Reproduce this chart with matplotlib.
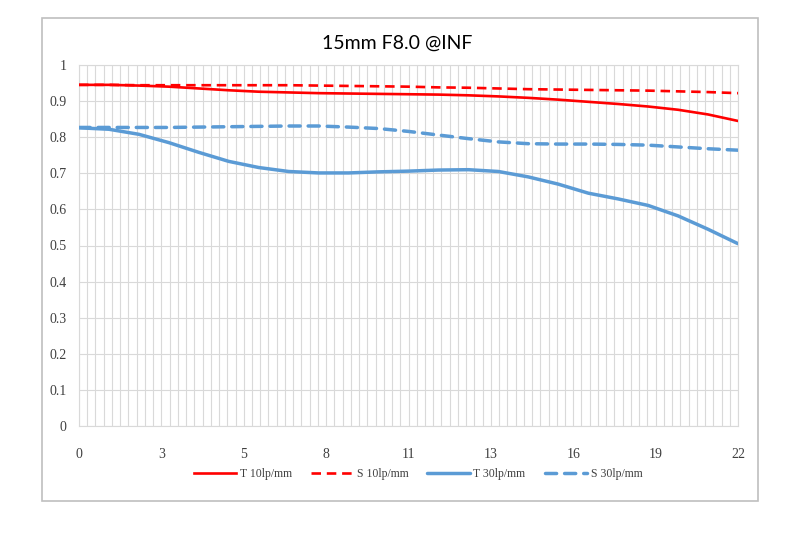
import matplotlib
matplotlib.use("Agg")
import matplotlib.pyplot as plt
from matplotlib.patches import Rectangle
import numpy as np

title = "15mm F8.0 @INF"
x = [0, 1, 2, 3, 4, 5, 6, 7, 8, 9, 10, 11, 12, 13, 14, 15, 16, 17, 18, 19, 20, 21, 22]
t10 = [0.945, 0.945, 0.943, 0.940, 0.935, 0.930, 0.926, 0.924, 0.922, 0.921, 0.920, 0.919,
       0.918, 0.916, 0.913, 0.909, 0.904, 0.898, 0.892, 0.885, 0.876, 0.863, 0.845]
s10 = [0.945, 0.945, 0.944, 0.944, 0.944, 0.944, 0.944, 0.944, 0.943, 0.942, 0.941, 0.940,
       0.938, 0.937, 0.935, 0.933, 0.932, 0.931, 0.930, 0.929, 0.927, 0.925, 0.922]
t30 = [0.826, 0.822, 0.808, 0.785, 0.758, 0.733, 0.716, 0.705, 0.701, 0.701, 0.704, 0.706,
       0.709, 0.710, 0.705, 0.690, 0.670, 0.645, 0.629, 0.611, 0.582, 0.545, 0.505]
s30 = [0.827, 0.827, 0.827, 0.827, 0.828, 0.829, 0.830, 0.831, 0.831, 0.828, 0.824, 0.816,
       0.806, 0.796, 0.787, 0.782, 0.781, 0.781, 0.780, 0.778, 0.773, 0.768, 0.764]
series_labels = ["T 10lp/mm", "S 10lp/mm", "T 30lp/mm", "S 30lp/mm"]
xtick_pos = [0, 2.75, 5.5, 8.25, 11, 13.75, 16.5, 19.25, 22]
xtick_labels = ["0", "3", "5", "8", "11", "13", "16", "19", "22"]
ytick_pos = [0, 0.1, 0.2, 0.3, 0.4, 0.5, 0.6, 0.7, 0.8, 0.9, 1.0]
ytick_labels = ["0", "0.1", "0.2", "0.3", "0.4", "0.5", "0.6", "0.7", "0.8", "0.9", "1"]
n_categories = 80

W, H = 790, 545
fig = plt.figure(figsize=(W / 100, H / 100), dpi=100)
fig.patch.set_facecolor("white")

# outer border
fig.patches.append(Rectangle((42 / W, 1 - 501 / H), 716 / W, 483 / H,
                             transform=fig.transFigure, fill=False,
                             edgecolor="#BFBFBF", linewidth=1.2))

ax = fig.add_axes([79 / W, 1 - 426 / H, (738 - 79) / W, (426 - 65) / H])
grid_c = "#D9D9D9"
for v in np.linspace(0, 22, n_categories + 1):
    ax.axvline(v, color=grid_c, linewidth=0.8, zorder=1)
for v in ytick_pos:
    ax.axhline(v, color=grid_c, linewidth=0.8, zorder=1)

red = "#FF0000"
blue = "#5B9BD5"
ax.plot(x, t10, color=red, linewidth=1.9, label=series_labels[0], zorder=3)
ax.plot(x, s10, color=red, linewidth=1.9, dashes=(3.6, 2.2), label=series_labels[1], zorder=3)
ax.plot(x, t30, color=blue, linewidth=2.5, label=series_labels[2], zorder=3,
        solid_capstyle="round")
ax.plot(x, s30, color=blue, linewidth=2.5, dashes=(3.2, 2.3), dash_capstyle="round",
        label=series_labels[3], zorder=3)

ax.set_xlim(0, 22)
ax.set_ylim(0, 1)
ax.set_xticks(xtick_pos)
ax.set_xticklabels(xtick_labels)
ax.set_yticks(ytick_pos)
ax.set_yticklabels(ytick_labels)
for s in ax.spines.values():
    s.set_color(grid_c)
    s.set_linewidth(0.8)
ax.tick_params(length=0, colors="#404040")
ax.tick_params(axis="x", pad=16)
ax.tick_params(axis="y", pad=9)
for lab in ax.get_xticklabels() + ax.get_yticklabels():
    lab.set_fontfamily("Liberation Serif")
    lab.set_fontsize(10)
    lab.set_color("#404040")

fig.text(397 / W, 1 - 43 / H, title, ha="center", va="center",
         fontsize=14, family="Lato", color="black")

leg = fig.legend(loc="center", bbox_to_anchor=(418 / W, 1 - 474 / H), ncol=4,
                 frameon=False, handlelength=3.6, handletextpad=0.3,
                 columnspacing=1.6, prop={"family": "Liberation Serif", "size": 8.5})
for t in leg.get_texts():
    t.set_color("#404040")

fig.savefig("out.png", dpi=100, facecolor="white")
